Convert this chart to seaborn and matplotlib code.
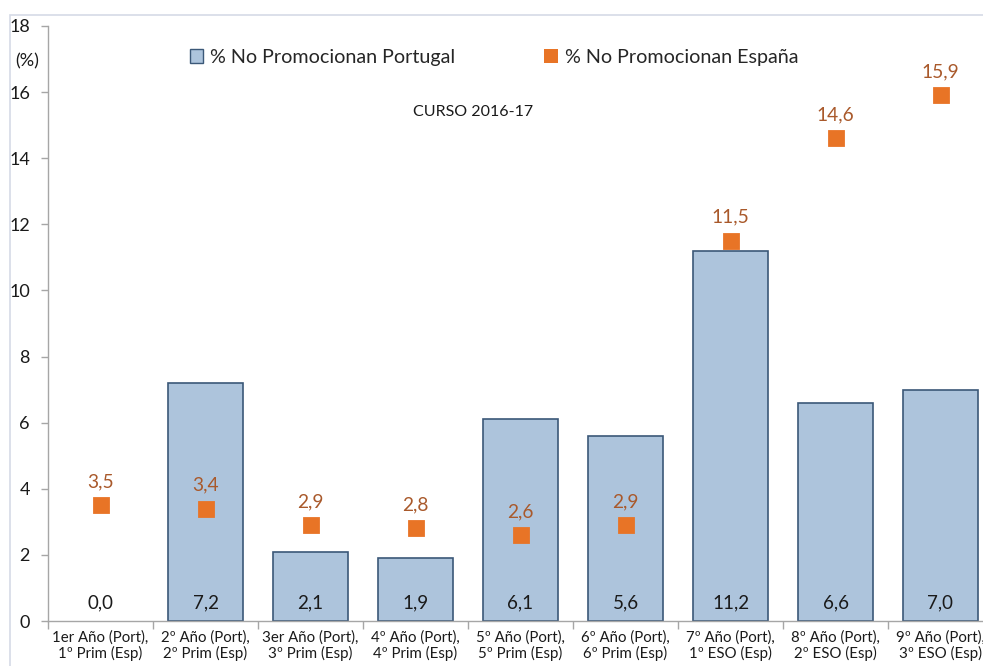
import matplotlib
matplotlib.use("Agg")
import matplotlib.pyplot as plt
import matplotlib.patches as mpatches
from matplotlib.ticker import FixedLocator
import seaborn as sns
import pandas as pd

# Data
categories = [
    "1er Año (Port),\n1º Prim (Esp)",
    "2º Año (Port),\n2º Prim (Esp)",
    "3er Año (Port),\n3º Prim (Esp)",
    "4º Año (Port),\n4º Prim (Esp)",
    "5º Año (Port),\n5º Prim (Esp)",
    "6º Año (Port),\n6º Prim (Esp)",
    "7º Año (Port),\n1º ESO (Esp)",
    "8º Año (Port),\n2º ESO (Esp)",
    "9º Año (Port),\n3º ESO (Esp)",
]
portugal = [0.0, 7.2, 2.1, 1.9, 6.1, 5.6, 11.2, 6.6, 7.0]
espana = [3.5, 3.4, 2.9, 2.8, 2.6, 2.9, 11.5, 14.6, 15.9]
yticks = list(range(0, 19, 2))

df = pd.DataFrame({"curso": categories, "Portugal": portugal, "España": espana})

sns.set_style("white")
plt.rcParams["font.family"] = ["Lato", "DejaVu Sans"]

BAR = "#ADC4DC"
BAR_EDGE = "#3B5878"
ORANGE = "#E87426"
LABEL_BROWN = "#A9592B"
AXIS_GRAY = "#A6A6A6"
TEXT = "#1a1a1a"

fig = plt.figure(figsize=(9.83, 6.66), dpi=100)
ax = fig.add_axes([48 / 983, 45 / 666, 945 / 983, 595 / 666])

# Outer chart frame
frame = mpatches.Rectangle((10 / 983, -0.2), 1.2, (651 / 666) + 0.2,
                           transform=fig.transFigure, fill=False,
                           edgecolor="#D5DAE6", linewidth=1.2, zorder=0)
fig.patches.append(frame)

sns.barplot(data=df, x="curso", y="Portugal", color=BAR, edgecolor=BAR_EDGE,
            linewidth=1.2, width=0.705, saturation=1, errorbar=None, ax=ax,
            zorder=2)
# zero-height bars leave no visible outline
for p in ax.patches:
    if p.get_height() == 0:
        p.set_linewidth(0)
sns.pointplot(data=df, x="curso", y="España", color=ORANGE, marker="s",
              markersize=10, linestyle="none", errorbar=None, ax=ax, zorder=3)

ax.set_xlim(-0.5, len(categories) - 0.5)
ax.set_ylim(0, 18)
ax.set_yticks(yticks)
ax.set_xlabel("")
ax.set_ylabel("")

for s in ["top", "right"]:
    ax.spines[s].set_visible(False)
for s in ["left", "bottom"]:
    ax.spines[s].set_color(AXIS_GRAY)
    ax.spines[s].set_linewidth(1.0)

ax.tick_params(axis="y", which="major", left=True, length=5, width=1,
               color=AXIS_GRAY, labelsize=13, pad=8, labelcolor=TEXT)
ax.tick_params(axis="x", which="major", bottom=False, labelsize=10.8,
               pad=3, labelcolor=TEXT)
ax.xaxis.set_minor_locator(FixedLocator([i - 0.5 for i in range(len(categories) + 1)]))
ax.tick_params(axis="x", which="minor", bottom=True, length=6, width=1,
               color=AXIS_GRAY)
for lab in ax.get_xticklabels():
    lab.set_linespacing(1.15)

# Value labels
for i, v in enumerate(portugal):
    ax.text(i, 0.55, f"{v:.1f}".replace(".", ","), ha="center", va="center",
            fontsize=13.5, color=TEXT, zorder=4)
for i, v in enumerate(espana):
    ax.annotate(f"{v:.1f}".replace(".", ","), (i, v), xytext=(0, 17),
                textcoords="offset points", ha="center", va="center",
                fontsize=13.8, color=LABEL_BROWN, zorder=4)

# Legend
handles = [
    mpatches.Patch(facecolor=BAR, edgecolor=BAR_EDGE, linewidth=1.0,
                   label="% No Promocionan Portugal"),
    mpatches.Patch(facecolor=ORANGE, edgecolor=ORANGE, linewidth=0,
                   label="% No Promocionan España"),
]
ax.legend(handles=handles, ncol=2, loc="center", frameon=False,
          bbox_to_anchor=(494 / 983, 1 - 57 / 666), bbox_transform=fig.transFigure,
          fontsize=14.2, handlelength=0.7, handleheight=0.7,
          handletextpad=0.35, columnspacing=4.5)

fig.text(473 / 983, 1 - 112 / 666, "CURSO 2016-17", ha="center", va="center",
         fontsize=11.5, color=TEXT)
fig.text(27 / 983, 1 - 61 / 666, "(%)", ha="center", va="center",
         fontsize=13, color=TEXT)

fig.savefig("out.png", dpi=100)
